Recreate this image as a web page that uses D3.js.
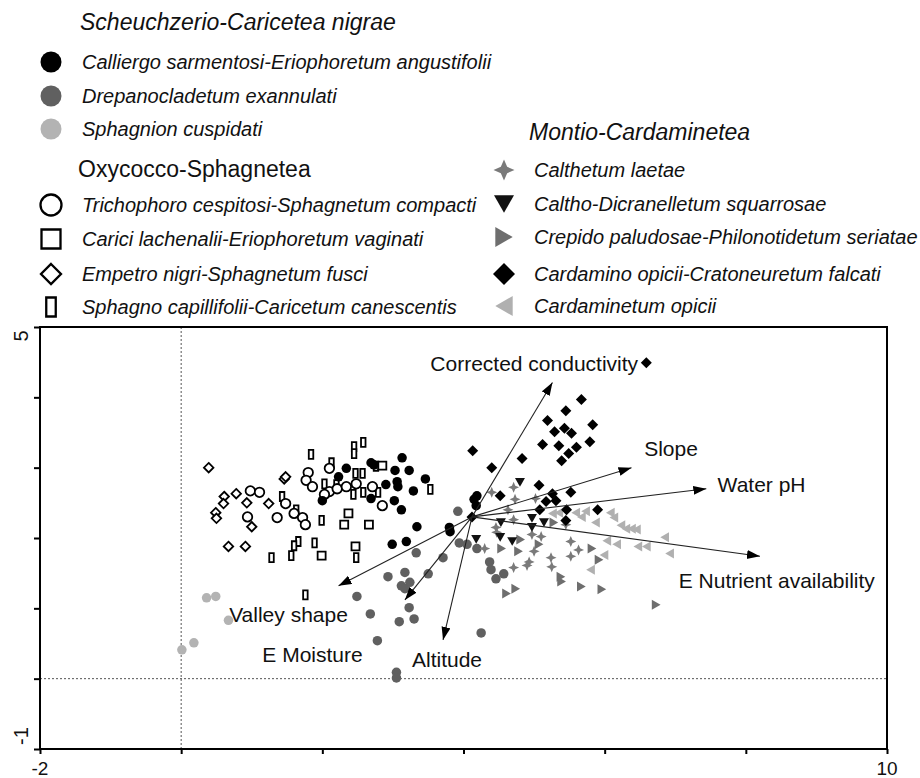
<!DOCTYPE html>
<html>
<head>
<meta charset="utf-8">
<script src="https://cdn.jsdelivr.net/npm/d3@7"></script>
<style>
  body { margin: 0; background: #fff; }
  text { font-family: Arial, "Liberation Sans", sans-serif; fill: #111; }
</style>
</head>
<body>
<script>
// ---- data (ordination scores) ----
var classNames = ["Scheuchzerio-Caricetea nigrae", "Oxycocco-Sphagnetea", "Montio-Cardaminetea"];

var calliergo = [[2.34,2.99],[2.23,2.87],[2.69,3.07],[2.73,3.04],[3.13,3.14],[3.03,2.96],[3.23,2.96],
  [3.06,2.80],[3.07,2.73],[2.90,2.76],[3.29,2.67],[3.46,2.84],[2.69,2.56],[3.02,2.53],[3.12,2.40],
  [2.00,2.53],[3.34,2.16],[2.99,1.91],[3.19,1.95],[3.80,2.15],[3.81,2.09],[4.15,2.55],[4.19,2.60],[4.18,2.46]];
var drepanocladetum = [[3.92,2.38],[3.94,1.93],[4.05,1.91],[3.33,1.79],[3.71,1.72],[3.50,1.49],[2.93,1.45],
  [3.17,1.51],[3.12,1.32],[3.24,1.37],[3.17,1.28],[2.49,1.17],[3.23,1.01],[2.68,0.92],[3.09,0.81],
  [3.30,0.85],[2.78,0.54],[4.25,0.65],[3.05,0.09],[3.05,0.01],[4.37,1.66],[4.39,1.55],[4.46,1.42],
  [4.57,1.49],[4.19,1.85]];
var sphagnion = [[0.36,1.15],[0.49,1.17],[0.67,0.83],[0.01,0.41],[0.18,0.51]];

var trichophoro = [[0.98,2.67],[1.11,2.65],[0.94,2.30],[1.36,2.29],[1.48,2.49],[1.60,2.35],[1.72,2.29],
  [1.76,2.19],[1.80,2.93],[1.77,2.82],[1.86,2.73],[2.10,2.99],[2.10,2.66],[2.03,2.62],[2.21,2.70],
  [2.34,2.73],[2.48,2.77],[2.71,2.73],[2.85,2.46]];
var carici = [[2.85,3.03],[2.37,2.35],[2.31,2.19],[2.66,2.19],[2.47,1.88],[1.99,1.75]];
var empetro = [[0.39,3.00],[1.46,2.84],[1.48,2.87],[0.61,2.59],[0.78,2.63],[0.93,2.50],[0.60,2.49],
  [1.24,2.49],[0.49,2.36],[0.50,2.28],[1.00,2.16],[0.67,1.88],[0.91,1.88]];
var sphagno = [[2.58,3.36],[2.45,3.30],[2.45,3.20],[1.84,3.19],[2.13,3.07],[2.20,2.76],[2.03,2.77],
  [2.47,2.92],[2.57,2.92],[2.76,3.02],[2.44,2.62],[2.58,2.65],[2.79,2.65],[3.53,2.69],[1.43,2.59],
  [1.63,2.40],[1.99,2.25],[1.66,1.95],[1.60,1.89],[1.56,1.75],[1.89,1.93],[2.48,1.72],[1.28,1.72],[1.76,1.19]];

var calthetum = [[4.40,2.65],[4.71,2.72],[5.02,2.56],[4.63,2.40],[4.71,2.26],[4.46,2.15],[4.47,2.08],
  [4.30,1.85],[4.71,1.58],[4.97,2.05],[5.10,2.02],[5.52,1.95],[5.45,2.19],[5.63,1.83],[4.93,1.66],
  [4.90,1.61],[5.00,1.81],[5.24,1.72],[5.25,1.59],[5.52,1.74],[4.73,2.55]];
var calthoDicranelletum = [[4.80,2.79],[4.97,2.28],[5.14,2.22],[4.97,2.15],[4.53,2.22],[4.52,2.01],
  [4.69,1.95],[4.18,1.98]];
var crepido = [[4.54,1.85],[4.78,1.81],[5.82,1.85],[5.38,1.45],[5.39,1.38],[5.67,1.31],[5.96,1.27],
  [4.61,1.21],[4.74,1.28],[6.73,1.05],[5.28,2.22],[5.07,1.91],[4.81,1.98],[5.92,1.69]];
var cardamino = [[6.59,4.49],[5.67,3.97],[5.45,3.81],[5.83,3.61],[5.19,3.67],[5.29,3.51],[5.43,3.56],
  [5.53,3.49],[5.79,3.37],[5.12,3.33],[5.35,3.31],[5.60,3.29],[5.49,3.20],[5.39,3.10],[4.13,3.24],
  [4.83,3.13],[4.40,3.00],[5.07,2.75],[4.52,2.60],[5.52,2.65],[5.26,2.63],[5.31,2.53],[5.17,2.52],
  [5.90,2.40],[5.46,2.40],[5.08,2.40],[5.45,2.25],[4.12,2.30]];
var cardaminetum = [[5.26,2.35],[5.59,2.36],[5.73,2.38],[6.08,2.36],[5.87,2.22],[6.13,2.29],[6.23,2.18],
  [6.30,2.13],[6.38,2.13],[6.45,2.12],[6.85,2.01],[6.03,1.96],[6.17,1.91],[6.47,1.88],[6.59,1.88],
  [6.92,1.78],[5.99,1.76],[5.80,1.55],[5.35,2.36],[5.67,2.30]];

// environmental vectors (biplot arrows)
var arrowOrigin = [4.12, 2.30];
var envNames = ["Corrected conductivity", "Slope", "Water pH", "E Nutrient availability",
  "Valley shape", "E Moisture", "Altitude"];
var envTips = [[5.26,4.21],[6.38,3.00],[7.44,2.70],[8.20,1.74],[2.23,1.32],[3.17,1.12],[3.71,0.55]];
var envLabelAt = [[3.53,4.37],[6.56,3.16],[7.60,2.65],[7.05,1.29],[0.68,0.80],[1.15,0.23],[3.27,0.17]];

var xTickValues = [-2, 0, 2, 4, 6, 8, 10];
var yTickValues = [-1, 0, 1, 2, 3, 4, 5];

// community -> class, points and marker look
var groups = [
  {name: "Calliergo sarmentosi-Eriophoretum angustifolii", cls: 0, pts: calliergo,       shape: "circle",  fill: "#000",    open: false},
  {name: "Drepanocladetum exannulati",                     cls: 0, pts: drepanocladetum, shape: "circle",  fill: "#606060", open: false},
  {name: "Sphagnion cuspidati",                            cls: 0, pts: sphagnion,       shape: "circle",  fill: "#b3b3b3", open: false},
  {name: "Trichophoro cespitosi-Sphagnetum compacti",      cls: 1, pts: trichophoro,     shape: "circle",  fill: "#fff",    open: true},
  {name: "Carici lachenalii-Eriophoretum vaginati",        cls: 1, pts: carici,          shape: "square",  fill: "#fff",    open: true},
  {name: "Empetro nigri-Sphagnetum fusci",                 cls: 1, pts: empetro,         shape: "diamond", fill: "#fff",    open: true},
  {name: "Sphagno capillifolii-Caricetum canescentis",     cls: 1, pts: sphagno,         shape: "bar",     fill: "#fff",    open: true},
  {name: "Calthetum laetae",                               cls: 2, pts: calthetum,       shape: "star",    fill: "#7a7a7a", open: false},
  {name: "Caltho-Dicranelletum squarrosae",                cls: 2, pts: calthoDicranelletum, shape: "triDown", fill: "#111", open: false},
  {name: "Crepido paludosae-Philonotidetum seriatae",      cls: 2, pts: crepido,         shape: "triRight", fill: "#6e6e6e", open: false},
  {name: "Cardamino opicii-Cratoneuretum falcati",         cls: 2, pts: cardamino,       shape: "bigDiamond", fill: "#000", open: false},
  {name: "Cardaminetum opicii",                            cls: 2, pts: cardaminetum,    shape: "triLeft", fill: "#b0b0b0", open: false}
];

// ---- setup ----
var width = 920, height = 778;
var svg = d3.select("body").append("svg")
  .attr("width", width)
  .attr("height", height);

var x = d3.scaleLinear().domain([-2, 10]).range([40, 887]);
var y = d3.scaleLinear().domain([-1, 5]).range([749, 327]);

// marker outlines; d = overall size in px
function shapePath(shape, d) {
  var p = d3.path(), r = d / 2, h = d * 0.87;
  switch (shape) {
    case "circle": p.arc(0, 0, r, 0, 2 * Math.PI); break;
    case "square": p.rect(-r, -r, d, d); break;
    case "diamond":
    case "bigDiamond":
      p.moveTo(0, -r); p.lineTo(r, 0); p.lineTo(0, r); p.lineTo(-r, 0); p.closePath(); break;
    case "bar": p.rect(-r * 0.5, -r, r, d); break;
    case "star":
      var q = r * 0.3;
      p.moveTo(0, -r); p.lineTo(q, -q); p.lineTo(r, 0); p.lineTo(q, q);
      p.lineTo(0, r); p.lineTo(-q, q); p.lineTo(-r, 0); p.lineTo(-q, -q); p.closePath(); break;
    case "triDown": p.moveTo(-r, -h / 2); p.lineTo(r, -h / 2); p.lineTo(0, h / 2); p.closePath(); break;
    case "triRight": p.moveTo(-h / 2, -r); p.lineTo(h / 2, 0); p.lineTo(-h / 2, r); p.closePath(); break;
    case "triLeft": p.moveTo(h / 2, -r); p.lineTo(-h / 2, 0); p.lineTo(h / 2, r); p.closePath(); break;
  }
  return p.toString();
}

var plotSize = {circle: 9.5, square: 8, diamond: 9.5, bar: 9, star: 11, triDown: 10, triRight: 10, bigDiamond: 11, triLeft: 10};
var legendSize = {circle: 21, square: 19, diamond: 20, bar: 19, star: 21, triDown: 20, triRight: 20, bigDiamond: 22, triLeft: 20};

// ---- frame, zero lines, ticks ----
svg.append("line")
  .attr("x1", x(0)).attr("x2", x(0)).attr("y1", y(5)).attr("y2", y(-1))
  .attr("stroke", "#555").attr("stroke-width", 1).attr("stroke-dasharray", "2,2");
svg.append("line")
  .attr("x1", x(-2)).attr("x2", x(10)).attr("y1", y(0)).attr("y2", y(0))
  .attr("stroke", "#555").attr("stroke-width", 1).attr("stroke-dasharray", "2,2");

svg.append("g")
  .attr("transform", "translate(0," + y(-1) + ")")
  .call(d3.axisBottom(x).tickValues(xTickValues).tickSize(5).tickFormat(""))
  .call(function (g) { g.select(".domain").remove(); })
  .selectAll("line").attr("stroke", "#000").attr("stroke-width", 2);
svg.append("g")
  .attr("transform", "translate(" + x(-2) + ",0)")
  .call(d3.axisLeft(y).tickValues(yTickValues).tickSize(6).tickFormat(""))
  .call(function (g) { g.select(".domain").remove(); })
  .selectAll("line").attr("stroke", "#000").attr("stroke-width", 2);

svg.append("rect")
  .attr("x", x(-2)).attr("y", y(5))
  .attr("width", x(10) - x(-2)).attr("height", y(-1) - y(5))
  .attr("fill", "none").attr("stroke", "#000").attr("stroke-width", 2);

// only the end ticks carry labels
svg.append("text").attr("x", x(-2)).attr("y", 775).attr("text-anchor", "middle")
  .style("font-size", "19px").text(xTickValues[0]);
svg.append("text").attr("x", x(10)).attr("y", 775).attr("text-anchor", "middle")
  .style("font-size", "19px").text(xTickValues[xTickValues.length - 1]);
svg.append("text").attr("transform", "translate(28," + (y(5) + 9) + ") rotate(-90)")
  .attr("text-anchor", "middle").style("font-size", "20px").text(yTickValues[yTickValues.length - 1]);
svg.append("text").attr("transform", "translate(28," + (y(-1) - 13) + ") rotate(-90)")
  .attr("text-anchor", "middle").style("font-size", "20px").text(yTickValues[0]);

// ---- points ----
var drawOrder = [6, 4, 3, 5, 2, 1, 0, 11, 9, 7, 8, 10];
drawOrder.forEach(function (i) {
  var gr = groups[i];
  svg.append("g").selectAll("path")
    .data(gr.pts)
    .enter().append("path")
    .attr("d", shapePath(gr.shape, plotSize[gr.shape]))
    .attr("transform", function (d) { return "translate(" + x(d[0]) + "," + y(d[1]) + ")"; })
    .attr("fill", gr.fill)
    .attr("stroke", gr.open ? "#000" : "none")
    .attr("stroke-width", gr.open ? 1.8 : 0);
});

// ---- environmental arrows ----
svg.append("defs").append("marker")
  .attr("id", "head")
  .attr("markerUnits", "userSpaceOnUse")
  .attr("markerWidth", 14).attr("markerHeight", 10)
  .attr("refX", 13).attr("refY", 4.5)
  .attr("orient", "auto")
  .append("path").attr("d", "M0,0L13,4.5L0,9Z").attr("fill", "#000");

svg.append("g").selectAll("line")
  .data(envTips)
  .enter().append("line")
  .attr("x1", x(arrowOrigin[0])).attr("y1", y(arrowOrigin[1]))
  .attr("x2", function (d) { return x(d[0]); })
  .attr("y2", function (d) { return y(d[1]); })
  .attr("stroke", "#222").attr("stroke-width", 1.1)
  .attr("marker-end", "url(#head)");

svg.append("g").selectAll("text")
  .data(envNames)
  .enter().append("text")
  .attr("x", function (d, i) { return x(envLabelAt[i][0]); })
  .attr("y", function (d, i) { return y(envLabelAt[i][1]); })
  .style("font-size", "21px")
  .text(function (d) { return d; });

// ---- legend ----
var legendCols = [
  {sx: 51, tx: 82, cls: [0, 1], rows: [62, 96, 129, 205, 239, 274, 307], heads: [[80, 30], [78, 177]]},
  {sx: 504, tx: 534, cls: [2], rows: [170, 204, 237, 274, 306], heads: [[529, 140]]}
];
legendCols.forEach(function (col) {
  col.cls.forEach(function (c, k) {
    svg.append("text")
      .attr("x", col.heads[k][0]).attr("y", col.heads[k][1])
      .style("font-size", "23px")
      .style("font-style", c === 1 ? "normal" : "italic")
      .text(classNames[c]);
  });
  var items = groups.filter(function (g) { return col.cls.indexOf(g.cls) >= 0; });
  var lg = svg.append("g").selectAll("g")
    .data(items)
    .enter().append("g")
    .attr("transform", function (d, i) { return "translate(0," + col.rows[i] + ")"; });
  lg.append("path")
    .attr("d", function (d) { return shapePath(d.shape, legendSize[d.shape]); })
    .attr("transform", "translate(" + col.sx + ",0)")
    .attr("fill", function (d) { return d.fill; })
    .attr("stroke", function (d) { return d.open ? "#000" : "none"; })
    .attr("stroke-width", function (d) { return d.open ? 2.3 : 0; });
  lg.append("text")
    .attr("x", col.tx).attr("y", 7)
    .style("font-size", "20px")
    .style("font-style", "italic")
    .text(function (d) { return d.name; });
});
</script>
</body>
</html>
